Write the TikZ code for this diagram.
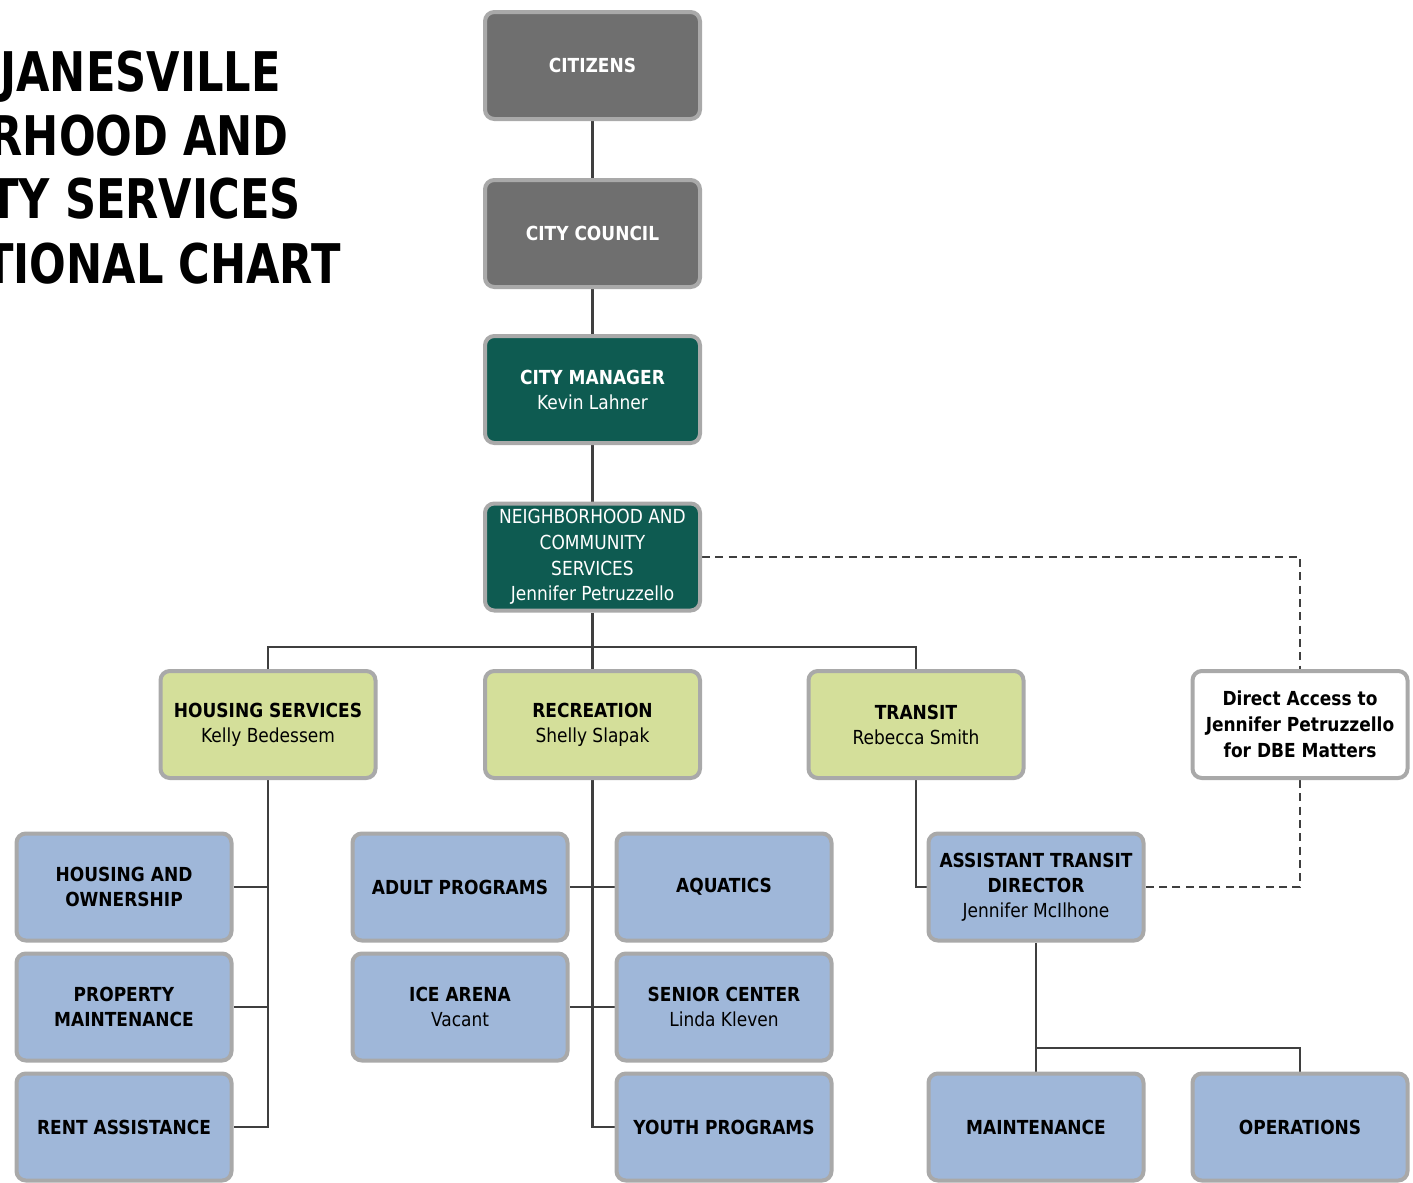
\documentclass[tikz,border=0pt]{standalone}
\usepackage{fontspec}
\setmainfont{DejaVu Sans}[FakeStretch=0.88]
\newfontfamily\orgtitlefont{DejaVu Sans}[FakeStretch=0.79]
\usetikzlibrary{backgrounds}
\definecolor{boxgray}{HTML}{6F6F6F}
\definecolor{boxteal}{HTML}{0E5B51}
\definecolor{boxgreen}{HTML}{D4DF9A}
\definecolor{boxblue}{HTML}{9FB7D9}
\definecolor{rimgray}{HTML}{A9A9A9}
\definecolor{linegray}{HTML}{3F3F3F}
\tikzset{
  orgbox/.style={draw=rimgray, line width=3pt, rounded corners=7pt,
    minimum width=161.25pt, minimum height=80.25pt, align=center,
    inner sep=2pt, font=\fontsize{14.5}{18.8}\selectfont},
  graybox/.style={orgbox, fill=boxgray, text=white},
  tealbox/.style={orgbox, fill=boxteal, text=white},
  greenbox/.style={orgbox, fill=boxgreen, text=black},
  bluebox/.style={orgbox, fill=boxblue, text=black},
  whitebox/.style={orgbox, fill=white, text=black},
  conn/.style={draw=linegray, line width=2.2pt},
  dconn/.style={draw=linegray, line width=1.9pt, dash pattern=on 6pt off 4pt},
  titleline/.style={anchor=base east, inner sep=0pt, font=\fontsize{41}{48}\selectfont\orgtitlefont\bfseries}
}
\begin{document}
\begin{tikzpicture}[x=0.75pt, y=-0.75pt]
\useasboundingbox (0,0) rectangle (1413,1182);
\begin{scope}
\clip (0,0) rectangle (1413,1182);
\node[titleline] (t1) at (281,91) {CITY OF JANESVILLE};
\node[titleline] (t2) at (289,155) {NEIGHBORHOOD AND};
\node[titleline] (t3) at (301,218) {COMMUNITY SERVICES};
\node[titleline] (t4) at (341,283) {ORGANIZATIONAL CHART};
\end{scope}

\node[graybox] (citizens) at (592.5,65.5) {\textbf{CITIZENS}};
\node[graybox] (council) at (592.5,233.5) {\textbf{CITY COUNCIL}};
\node[tealbox] (manager) at (592.5,389.5) {\textbf{CITY MANAGER}\\Kevin Lahner};
\node[tealbox, font=\fontsize{14.5}{19.3}\selectfont] (ncs) at (592.5,557) {NEIGHBORHOOD AND\\COMMUNITY\\SERVICES\\Jennifer Petruzzello};

\node[greenbox] (hs) at (268,724.5) {\textbf{HOUSING SERVICES}\\Kelly Bedessem};
\node[greenbox] (rec) at (592.5,724.5) {\textbf{RECREATION}\\Shelly Slapak};
\node[greenbox] (tr) at (916,724.5) {\textbf{TRANSIT}\\Rebecca Smith};
\node[whitebox, font=\fontsize{14.5}{19.3}\selectfont\bfseries] (da) at (1300,724.5) {Direct Access to\\Jennifer Petruzzello\\for DBE Matters};

\node[bluebox] (ho) at (124,887) {\textbf{HOUSING AND}\\\textbf{OWNERSHIP}};
\node[bluebox] (pm) at (124,1007) {\textbf{PROPERTY}\\\textbf{MAINTENANCE}};
\node[bluebox] (rent) at (124,1127) {\textbf{RENT ASSISTANCE}};
\node[bluebox] (adult) at (460,887) {\textbf{ADULT PROGRAMS}};
\node[bluebox] (ice) at (460,1007) {\textbf{ICE ARENA}\\Vacant};
\node[bluebox] (aqua) at (724,887) {\textbf{AQUATICS}};
\node[bluebox] (senior) at (724,1007) {\textbf{SENIOR CENTER}\\Linda Kleven};
\node[bluebox] (youth) at (724,1127) {\textbf{YOUTH PROGRAMS}};
\node[bluebox] (atd) at (1036,887) {\textbf{ASSISTANT TRANSIT}\\\textbf{DIRECTOR}\\Jennifer McIlhone};
\node[bluebox] (maint) at (1036,1127) {\textbf{MAINTENANCE}};
\node[bluebox] (ops) at (1300,1127) {\textbf{OPERATIONS}};

\coordinate (bus) at (592.5,647);
\coordinate (mbus) at (1036,1048);

\begin{scope}[on background layer]
\draw[conn] (citizens) -- (council);
\draw[conn] (council) -- (manager);
\draw[conn] (manager) -- (ncs);
\draw[conn] (ncs) -- (rec);
\draw[conn] (hs.north) -- (hs.north |- bus) -- (tr.north |- bus) -- (tr.north);
\draw[conn] (hs.south) |- (rent.east);
\draw[conn] (ho.east) -- (ho.east -| hs.south);
\draw[conn] (pm.east) -- (pm.east -| hs.south);
\draw[conn] (rec.south) |- (youth.west);
\draw[conn] (adult.east) -- (aqua.west);
\draw[conn] (ice.east) -- (senior.west);
\draw[conn] (tr.south) |- (atd.west);
\draw[conn] (atd.south) -- (maint.north);
\draw[conn] (mbus) -| (ops.north);
\draw[dconn] (ncs.east) -| (da.north);
\draw[dconn] (da.south) |- (atd.east);
\end{scope}
\end{tikzpicture}
\end{document}
